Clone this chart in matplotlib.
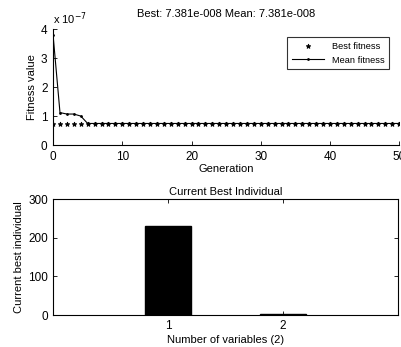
import matplotlib.pyplot as plt
import numpy as np

plt.rcParams['font.family'] = ['Liberation Sans', 'DejaVu Sans']
plt.rcParams['font.size'] = 8

generations = np.arange(0, 51)
best_fitness = [7.381e-8] * 51
mean_fitness = [3.8e-7, 1.12e-7, 1.07e-7, 1.07e-7, 1.0e-7] + [7.45e-8] * 46
variables = [1, 2]
best_individual = [230, 4]

fig = plt.figure(figsize=(4.02, 3.47), dpi=100)

# top: fitness per generation
ax1 = fig.add_axes([0.132, 0.582, 0.861, 0.334])
ax1.plot(generations, best_fitness, '*', color='black', markersize=3.5, markeredgewidth=0.6,
         linestyle='none', label='Best fitness')
ax1.plot(generations, mean_fitness, '.-', color='black', markersize=2, linewidth=0.8,
         label='Mean fitness')
ax1.set_xlim(0, 50)
ax1.set_ylim(0, 4e-7)
ax1.set_xticks([0, 10, 20, 30, 40, 50])
ax1.set_yticks([0, 1e-7, 2e-7, 3e-7, 4e-7])
ax1.set_yticklabels(['0', '1', '2', '3', '4'])
ax1.text(0.0, 1.02, r'x 10$^{-7}$', transform=ax1.transAxes, fontsize=8, va='bottom')
ax1.set_xlabel('Generation', labelpad=1)
ax1.set_ylabel('Fitness value', labelpad=3)
ax1.set_title('Best: 7.381e-008 Mean: 7.381e-008', fontsize=8, pad=9)
ax1.spines['top'].set_visible(False)
ax1.spines['right'].set_visible(False)
ax1.tick_params(direction='in', length=3, width=0.6, labelsize=8.5, pad=4)
for s in ax1.spines.values():
    s.set_linewidth(0.8)
leg = ax1.legend(loc='upper right', bbox_to_anchor=(0.985, 0.97), fontsize=6.7, frameon=True,
                 fancybox=False, edgecolor='black', handlelength=3.5, borderpad=0.5,
                 labelspacing=0.5)
leg.get_frame().set_linewidth(0.8)

# bottom: current best individual
ax2 = fig.add_axes([0.132, 0.092, 0.858, 0.334])
ax2.bar(variables, best_individual, width=0.4, color='black', edgecolor='black')
ax2.set_xlim(0, 3)
ax2.set_ylim(0, 300)
ax2.set_xticks([1, 2])
ax2.set_yticks([0, 100, 200, 300])
ax2.set_xlabel('Number of variables (2)', labelpad=2)
ax2.set_ylabel('Current best individual', labelpad=3)
ax2.set_title('Current Best Individual', fontsize=8, pad=3)
ax2.tick_params(direction='in', length=3, width=0.6, labelsize=8.5, top=True, right=True)
for s in ax2.spines.values():
    s.set_linewidth(0.8)

fig.savefig('out.png', dpi=100, facecolor='white')
